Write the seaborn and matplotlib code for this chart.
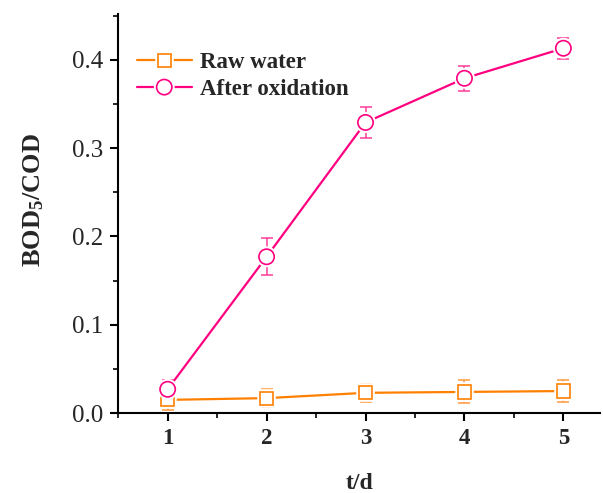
import matplotlib
matplotlib.use("Agg")
import matplotlib.pyplot as plt
import matplotlib.patheffects as pe
from matplotlib.lines import Line2D
import seaborn as sns
import pandas as pd
import numpy as np
from matplotlib.ticker import MultipleLocator

days = [1, 2, 3, 4, 5]
raw_water = [0.015, 0.017, 0.023, 0.024, 0.025]
raw_err = [0.011, 0.010, 0.010, 0.013, 0.012]
after_ox = [0.027, 0.177, 0.329, 0.379, 0.413]
after_err = [0.010, 0.021, 0.018, 0.014, 0.012]
series_names = ["Raw water", "After oxidation"]
yticks = [0.0, 0.1, 0.2, 0.3, 0.4]

sns.set_style("ticks")
plt.rcParams["font.family"] = ["Liberation Serif", "DejaVu Serif"]
plt.rcParams["mathtext.fontset"] = "custom"
plt.rcParams["mathtext.rm"] = "Liberation Serif:bold"
plt.rcParams["mathtext.it"] = "Liberation Serif:bold"
plt.rcParams["mathtext.bf"] = "Liberation Serif:bold"

df = pd.DataFrame({
    "day": days * 2,
    "value": raw_water + after_ox,
    "series": [series_names[0]] * 5 + [series_names[1]] * 5,
})

colors = {series_names[0]: "#FF8000", series_names[1]: "#FF0080"}
ecolors = {series_names[0]: "#FF9A3C", series_names[1]: "#FF3C9A"}
markers = {series_names[0]: "s", series_names[1]: "o"}
sizes = {series_names[0]: 9.5, series_names[1]: 11}

fig = plt.figure(figsize=(6.03, 4.93), dpi=100)
ax = fig.add_axes([0.196, 0.162, 0.799, 0.81])

handles = []
for name, errs in zip(series_names, [raw_err, after_err]):
    sub = df[df["series"] == name]
    ax.errorbar(sub["day"], sub["value"], yerr=errs, fmt="none",
                ecolor=ecolors[name], elinewidth=1.1, capsize=4.5, capthick=1.1, zorder=2)
    sns.lineplot(data=sub, x="day", y="value", ax=ax, color=colors[name],
                 linewidth=1.6, zorder=3, legend=False)
    ax.plot(sub["day"], sub["value"], linestyle="none", marker=markers[name],
            markersize=sizes[name], markerfacecolor="white",
            markeredgecolor=colors[name], markeredgewidth=1.2, zorder=4,
            path_effects=[pe.withStroke(linewidth=4, foreground="white")])
    handles.append(Line2D([], [], color=colors[name], linewidth=1.6,
                          marker=markers[name], markersize=sizes[name],
                          markerfacecolor="white", markeredgecolor=colors[name],
                          markeredgewidth=1.2,
                          path_effects=[pe.withStroke(linewidth=4, foreground="white")]))

ax.set_xlim(0.5, 5.37)
ax.set_ylim(0, 0.452)
ax.set_xticks(days)
ax.set_yticks(yticks)
ax.set_yticklabels([f"{v:.1f}" for v in yticks], fontsize=18)
ax.set_xticklabels([str(d) for d in days], fontsize=16.5, fontweight="bold")
ax.xaxis.set_minor_locator(MultipleLocator(0.5))
ax.yaxis.set_minor_locator(MultipleLocator(0.05))
ax.tick_params(axis="both", which="major", direction="out", length=6, width=1.5,
               color="black", pad=5)
ax.tick_params(axis="both", which="minor", direction="out", length=3.5, width=1.2, color="black")
for s in ["top", "right"]:
    ax.spines[s].set_visible(False)
for s in ["left", "bottom"]:
    ax.spines[s].set_linewidth(1.5)
    ax.spines[s].set_color("black")

ax.set_xlabel("t/d", fontsize=17, fontweight="bold", va="baseline")
ax.set_ylabel("BOD$_5$/COD", fontsize=19, fontweight="bold")
ax.xaxis.set_label_coords(0.5, -0.191)
ax.yaxis.set_label_coords(-0.15, 0.534)

leg = ax.legend(handles, series_names, loc="upper left", bbox_to_anchor=(0.01, 0.938),
                frameon=False, prop={"weight": "bold", "size": 16.5}, handlelength=2.4,
                handletextpad=0.35, labelspacing=0.25, borderaxespad=0.2)

fig.savefig("out.png", dpi=100)
